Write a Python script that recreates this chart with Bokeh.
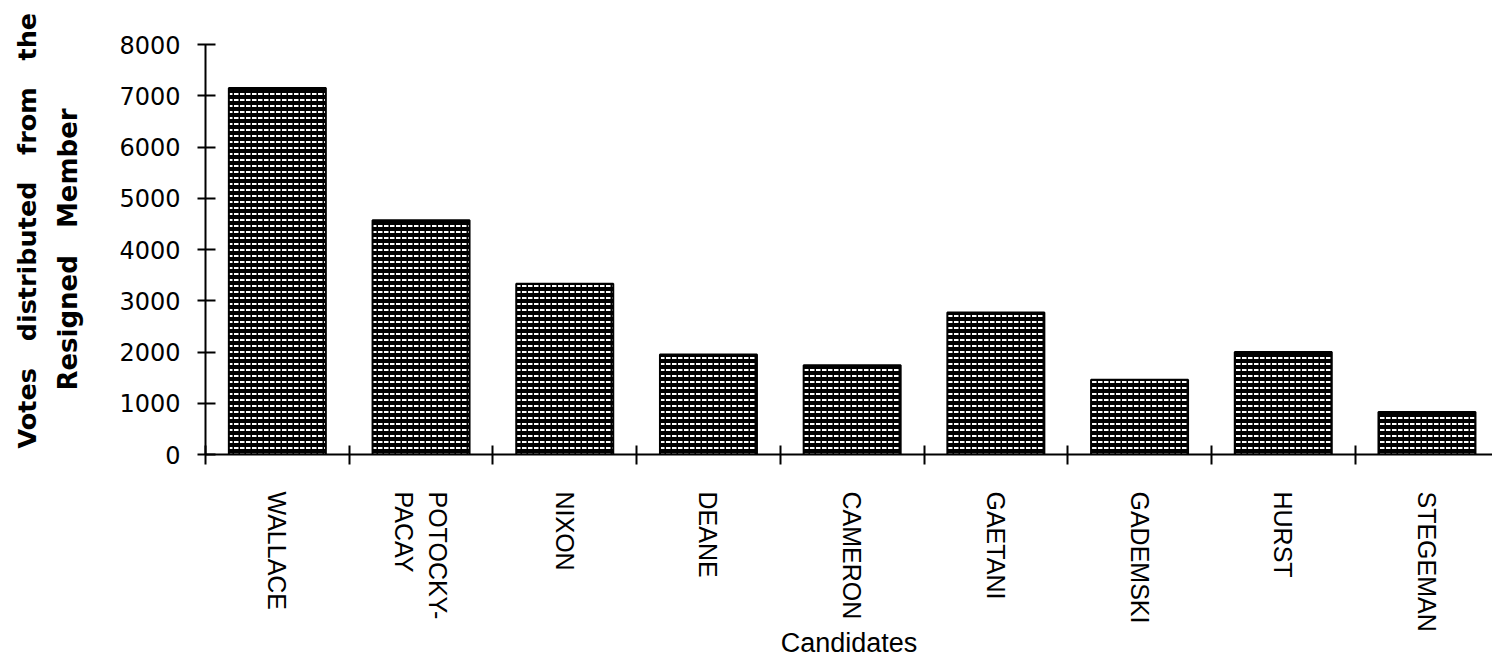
import math
from bokeh.plotting import figure
from bokeh.models import Range1d, FixedTicker, Title
from bokeh.embed import file_html
from bokeh.resources import INLINE

candidates = ["WALLACE", "POTOCKY-\nPACAY", "NIXON", "DEANE", "CAMERON",
              "GAETANI", "GADEMSKI", "HURST", "STEGEMAN"]
votes = [7150, 4570, 3330, 1950, 1740, 2770, 1460, 2000, 830]
y_ticks = [0, 1000, 2000, 3000, 4000, 5000, 6000, 7000, 8000]

n = len(candidates)
centers = [i + 0.5 for i in range(n)]
bounds = list(range(n))

p = figure(width=1492, height=669, output_backend="svg", toolbar_location=None,
           x_range=Range1d(0, 8.956), y_range=Range1d(0, 8000),
           min_border_left=205, min_border_right=0, min_border_top=44,
           min_border_bottom=215)
p.outline_line_color = None
p.grid.visible = False
p.background_fill_color = "white"
p.border_fill_color = "white"

p.vbar(x=centers, top=votes, bottom=0, width=0.675,
       fill_color="black", line_color="black", line_width=2,
       hatch_pattern="horizontal_dash", hatch_color="white",
       hatch_scale=6, hatch_weight=2)

# x axis
xa = p.xaxis[0]
xa.ticker = FixedTicker(ticks=centers, minor_ticks=bounds)
xa.major_label_overrides = {c: name for c, name in zip(centers, candidates)}
xa.major_label_orientation = -math.pi / 2
xa.major_tick_line_color = None
xa.minor_tick_in = 9
xa.minor_tick_out = 10
xa.minor_tick_line_width = 2
xa.minor_tick_line_color = "black"
xa.axis_line_width = 2
xa.axis_line_color = "black"
xa.major_label_standoff = 27
xa.major_label_text_font = "Liberation Sans"
xa.major_label_text_font_size = "25px"
xa.major_label_text_color = "black"
xa.major_label_text_align = "center"
xa.axis_label = "Candidates"
xa.axis_label_text_font = "Liberation Sans"
xa.axis_label_text_font_size = "27px"
xa.axis_label_text_font_style = "normal"
xa.axis_label_text_color = "black"
xa.axis_label_standoff = -7

# y axis
ya = p.yaxis[0]
ya.ticker = FixedTicker(ticks=y_ticks)
ya.major_tick_in = 10
ya.major_tick_out = 8
ya.major_tick_line_width = 2
ya.minor_tick_line_color = None
ya.axis_line_width = 2
ya.axis_line_color = "black"
ya.major_label_standoff = 17
ya.major_label_text_font = "DejaVu Sans"
ya.major_label_text_font_size = "24px"
ya.major_label_text_color = "black"
ya.axis_label = "Resigned \u00a0 Member"
ya.axis_label_text_font = "DejaVu Sans"
ya.axis_label_text_font_size = "26px"
ya.axis_label_text_font_style = "bold"
ya.axis_label_text_color = "black"
ya.axis_label_standoff = 33

t1 = Title(text="Votes \u00a0 distributed \u00a0 from \u00a0 the", align="left",
           offset=6, standoff=18,
           text_font="DejaVu Sans", text_font_size="25.5px",
           text_font_style="bold", text_color="black")
p.add_layout(t1, "left")

open("out.html", "w").write(file_html(p, INLINE))
